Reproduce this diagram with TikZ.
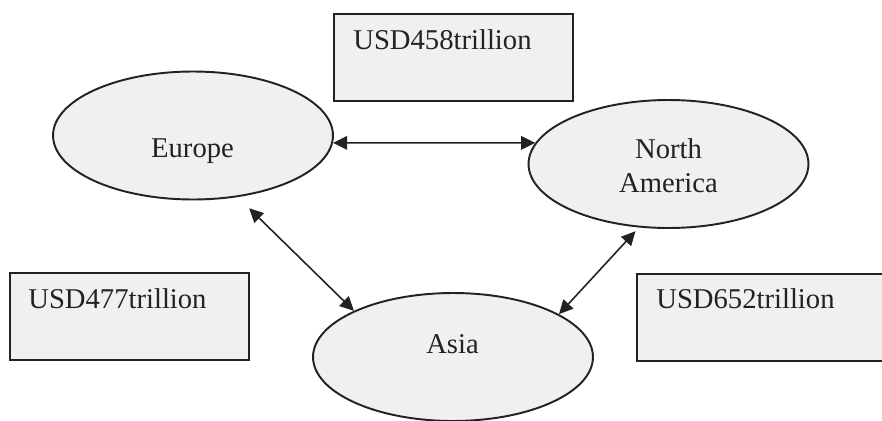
\documentclass[tikz,border=0pt]{standalone}
\usepackage{fontspec}
\setmainfont{Liberation Serif}
\usetikzlibrary{arrows.meta,shapes.geometric}
\definecolor{shapefill}{RGB}{240,240,240}
\definecolor{inkline}{RGB}{34,34,34}
\tikzset{
	region/.style={ellipse, draw=inkline, fill=shapefill, line width=1.1pt, inner sep=0pt, minimum width=5.6cm, minimum height=2.56cm},
	pricebox/.style={rectangle, draw=inkline, fill=shapefill, line width=1.2pt, inner sep=0pt, minimum width=4.78cm, minimum height=1.74cm},
	label text/.style={inner sep=0pt, text=inkline, font=\fontsize{16.3}{19}\selectfont},
	link/.style={{Triangle[length=0.28cm, width=0.27cm]}-{Triangle[length=0.28cm, width=0.27cm]}, draw=inkline, line width=0.9pt}
}
\begin{document}
\begin{tikzpicture}[x=0.02cm, y=-0.02cm]
		\useasboundingbox (0,0) rectangle (882,420);
		% regions
		\node[region] (europe) at (193,135.5) {};
		\node[region] (na) at (668.5,164) {};
		\node[region] (asia) at (453,357) {};
		\node[label text, anchor=base] (europe-t) at (192.5,157) {Europe};
		\node[label text, anchor=base] (na-t1) at (668.5,158) {North};
		\node[label text, anchor=base] (na-t2) at (668.5,192) {America};
		\node[label text, anchor=base] (asia-t) at (452.5,353) {Asia};

		% trade values
		\node[pricebox, anchor=north west] (p458) at (333,13) {};
		\node[pricebox, anchor=north west] (p477) at (9,272) {};
		\node[pricebox, anchor=north west, minimum width=5.1cm] (p652) at (636,273) {};
		\node[label text, anchor=base west] (p458-t) at ([shift={(20,36)}]p458.north west) {USD458trillion};
		\node[label text, anchor=base west] (p477-t) at ([shift={(19,36)}]p477.north west) {USD477trillion};
		\node[label text, anchor=base west] (p652-t) at ([shift={(20,35)}]p652.north west) {USD652trillion};

		% flows
		\draw[link] (europe.-3) -- (na.171);
		\draw[link, shorten <=0.32cm] (europe.-54.5) -- (asia.155.8);
		\draw[link, shorten <=0.1cm] (na.-115.4) -- (asia.22.9);
	\end{tikzpicture}
\end{document}
